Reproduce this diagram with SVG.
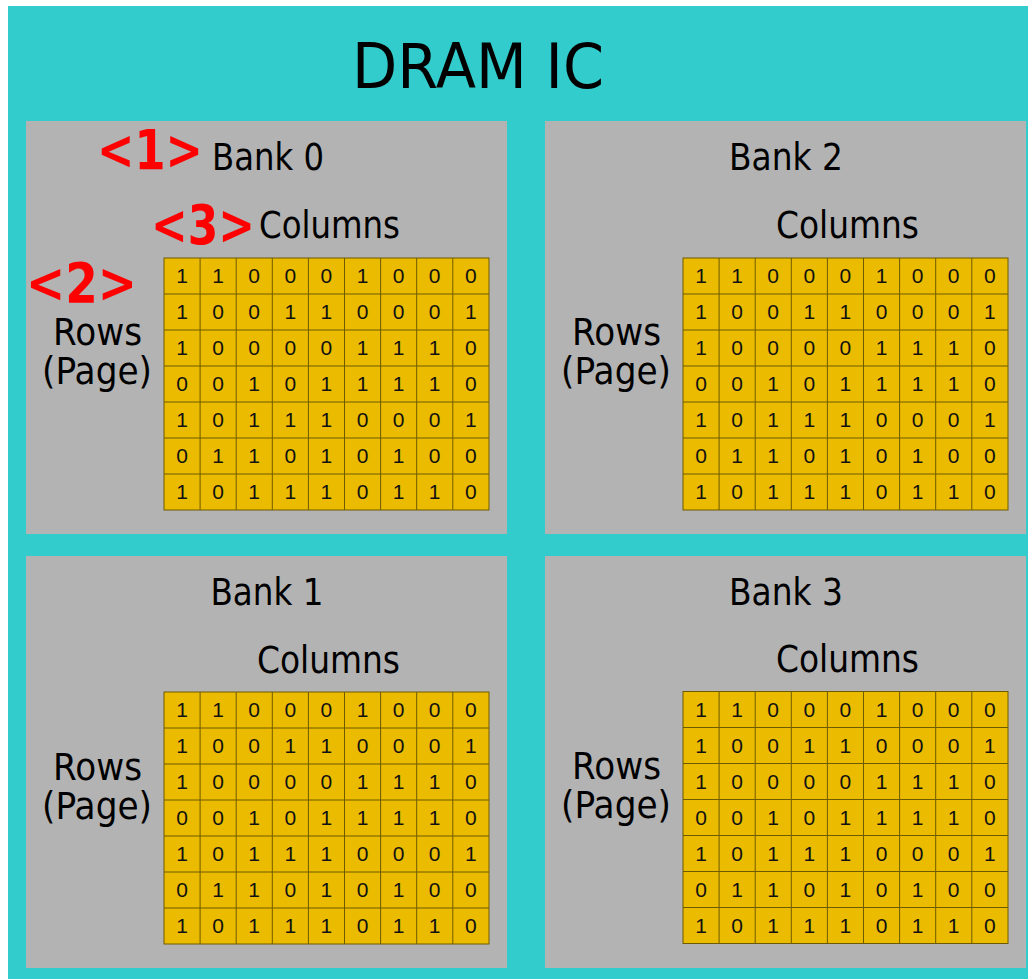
<svg xmlns="http://www.w3.org/2000/svg" width="1028" height="979" viewBox="0 0 1028 979">
<style>
.bg{fill:#33CCCC}
.panel{fill:#B3B3B3}
.t{font-family:"DejaVu Sans","Verdana",sans-serif;font-size:37px;fill:#000;text-anchor:middle}
.h{font-family:"DejaVu Sans","Verdana",sans-serif;font-size:62px;fill:#000;text-anchor:middle}
.r{font-family:"DejaVu Sans","Verdana",sans-serif;font-weight:bold;font-size:56px;fill:#FF0000;text-anchor:middle}
.cell{fill:#EBBB00;stroke:#6E5A00;stroke-width:1}
.gl{fill:none;stroke:#6E5A00;stroke-width:1}
.d{font-family:"Liberation Sans",Arial,sans-serif;font-size:21px;fill:#111;text-anchor:middle}
</style>
<rect class="bg" x="8" y="6" width="1020" height="973"/>
<g id="title"><text class="h" x="478" y="88" textLength="252" lengthAdjust="spacingAndGlyphs">DRAM IC</text></g>

<g id="bank0">
<rect class="panel" x="26" y="121" width="481" height="413"/>
<text class="t" x="268" y="170" textLength="112" lengthAdjust="spacingAndGlyphs">Bank 0</text>
<text class="t" x="329.5" y="238" textLength="141" lengthAdjust="spacingAndGlyphs">Columns</text>
<text class="t" x="97.5" y="345" textLength="89" lengthAdjust="spacingAndGlyphs">Rows</text>
<text class="t" x="97" y="384" textLength="110" lengthAdjust="spacingAndGlyphs">(Page)</text>
<g transform="translate(164,258)">
<rect class="cell" x="0" y="0" width="325" height="252"/>
<path class="gl" d="M36.1 0V252M72.2 0V252M108.3 0V252M144.4 0V252M180.5 0V252M216.6 0V252M252.7 0V252M288.8 0V252M0 36H325M0 72H325M0 108H325M0 144H325M0 180H325M0 216H325"/>
<text class="d" x="18" y="25">1</text><text class="d" x="54.1" y="25">1</text><text class="d" x="90.2" y="25">0</text><text class="d" x="126.3" y="25">0</text><text class="d" x="162.4" y="25">0</text><text class="d" x="198.5" y="25">1</text><text class="d" x="234.6" y="25">0</text><text class="d" x="270.7" y="25">0</text><text class="d" x="306.8" y="25">0</text>
<text class="d" x="18" y="61">1</text><text class="d" x="54.1" y="61">0</text><text class="d" x="90.2" y="61">0</text><text class="d" x="126.3" y="61">1</text><text class="d" x="162.4" y="61">1</text><text class="d" x="198.5" y="61">0</text><text class="d" x="234.6" y="61">0</text><text class="d" x="270.7" y="61">0</text><text class="d" x="306.8" y="61">1</text>
<text class="d" x="18" y="97">1</text><text class="d" x="54.1" y="97">0</text><text class="d" x="90.2" y="97">0</text><text class="d" x="126.3" y="97">0</text><text class="d" x="162.4" y="97">0</text><text class="d" x="198.5" y="97">1</text><text class="d" x="234.6" y="97">1</text><text class="d" x="270.7" y="97">1</text><text class="d" x="306.8" y="97">0</text>
<text class="d" x="18" y="133">0</text><text class="d" x="54.1" y="133">0</text><text class="d" x="90.2" y="133">1</text><text class="d" x="126.3" y="133">0</text><text class="d" x="162.4" y="133">1</text><text class="d" x="198.5" y="133">1</text><text class="d" x="234.6" y="133">1</text><text class="d" x="270.7" y="133">1</text><text class="d" x="306.8" y="133">0</text>
<text class="d" x="18" y="169">1</text><text class="d" x="54.1" y="169">0</text><text class="d" x="90.2" y="169">1</text><text class="d" x="126.3" y="169">1</text><text class="d" x="162.4" y="169">1</text><text class="d" x="198.5" y="169">0</text><text class="d" x="234.6" y="169">0</text><text class="d" x="270.7" y="169">0</text><text class="d" x="306.8" y="169">1</text>
<text class="d" x="18" y="205">0</text><text class="d" x="54.1" y="205">1</text><text class="d" x="90.2" y="205">1</text><text class="d" x="126.3" y="205">0</text><text class="d" x="162.4" y="205">1</text><text class="d" x="198.5" y="205">0</text><text class="d" x="234.6" y="205">1</text><text class="d" x="270.7" y="205">0</text><text class="d" x="306.8" y="205">0</text>
<text class="d" x="18" y="241">1</text><text class="d" x="54.1" y="241">0</text><text class="d" x="90.2" y="241">1</text><text class="d" x="126.3" y="241">1</text><text class="d" x="162.4" y="241">1</text><text class="d" x="198.5" y="241">0</text><text class="d" x="234.6" y="241">1</text><text class="d" x="270.7" y="241">1</text><text class="d" x="306.8" y="241">0</text>
</g>
</g>

<g id="bank2">
<rect class="panel" x="545" y="121" width="481" height="413"/>
<text class="t" x="786" y="170" textLength="114" lengthAdjust="spacingAndGlyphs">Bank 2</text>
<text class="t" x="847.5" y="238" textLength="143" lengthAdjust="spacingAndGlyphs">Columns</text>
<text class="t" x="616.5" y="345" textLength="89" lengthAdjust="spacingAndGlyphs">Rows</text>
<text class="t" x="616" y="384" textLength="110" lengthAdjust="spacingAndGlyphs">(Page)</text>
<g transform="translate(683,258)">
<rect class="cell" x="0" y="0" width="325" height="252"/>
<path class="gl" d="M36.1 0V252M72.2 0V252M108.3 0V252M144.4 0V252M180.5 0V252M216.6 0V252M252.7 0V252M288.8 0V252M0 36H325M0 72H325M0 108H325M0 144H325M0 180H325M0 216H325"/>
<text class="d" x="18" y="25">1</text><text class="d" x="54.1" y="25">1</text><text class="d" x="90.2" y="25">0</text><text class="d" x="126.3" y="25">0</text><text class="d" x="162.4" y="25">0</text><text class="d" x="198.5" y="25">1</text><text class="d" x="234.6" y="25">0</text><text class="d" x="270.7" y="25">0</text><text class="d" x="306.8" y="25">0</text>
<text class="d" x="18" y="61">1</text><text class="d" x="54.1" y="61">0</text><text class="d" x="90.2" y="61">0</text><text class="d" x="126.3" y="61">1</text><text class="d" x="162.4" y="61">1</text><text class="d" x="198.5" y="61">0</text><text class="d" x="234.6" y="61">0</text><text class="d" x="270.7" y="61">0</text><text class="d" x="306.8" y="61">1</text>
<text class="d" x="18" y="97">1</text><text class="d" x="54.1" y="97">0</text><text class="d" x="90.2" y="97">0</text><text class="d" x="126.3" y="97">0</text><text class="d" x="162.4" y="97">0</text><text class="d" x="198.5" y="97">1</text><text class="d" x="234.6" y="97">1</text><text class="d" x="270.7" y="97">1</text><text class="d" x="306.8" y="97">0</text>
<text class="d" x="18" y="133">0</text><text class="d" x="54.1" y="133">0</text><text class="d" x="90.2" y="133">1</text><text class="d" x="126.3" y="133">0</text><text class="d" x="162.4" y="133">1</text><text class="d" x="198.5" y="133">1</text><text class="d" x="234.6" y="133">1</text><text class="d" x="270.7" y="133">1</text><text class="d" x="306.8" y="133">0</text>
<text class="d" x="18" y="169">1</text><text class="d" x="54.1" y="169">0</text><text class="d" x="90.2" y="169">1</text><text class="d" x="126.3" y="169">1</text><text class="d" x="162.4" y="169">1</text><text class="d" x="198.5" y="169">0</text><text class="d" x="234.6" y="169">0</text><text class="d" x="270.7" y="169">0</text><text class="d" x="306.8" y="169">1</text>
<text class="d" x="18" y="205">0</text><text class="d" x="54.1" y="205">1</text><text class="d" x="90.2" y="205">1</text><text class="d" x="126.3" y="205">0</text><text class="d" x="162.4" y="205">1</text><text class="d" x="198.5" y="205">0</text><text class="d" x="234.6" y="205">1</text><text class="d" x="270.7" y="205">0</text><text class="d" x="306.8" y="205">0</text>
<text class="d" x="18" y="241">1</text><text class="d" x="54.1" y="241">0</text><text class="d" x="90.2" y="241">1</text><text class="d" x="126.3" y="241">1</text><text class="d" x="162.4" y="241">1</text><text class="d" x="198.5" y="241">0</text><text class="d" x="234.6" y="241">1</text><text class="d" x="270.7" y="241">1</text><text class="d" x="306.8" y="241">0</text>
</g>
</g>

<g id="bank1">
<rect class="panel" x="26" y="556" width="481" height="412"/>
<text class="t" x="267" y="605" textLength="113" lengthAdjust="spacingAndGlyphs">Bank 1</text>
<text class="t" x="328.5" y="673" textLength="143" lengthAdjust="spacingAndGlyphs">Columns</text>
<text class="t" x="97.5" y="780" textLength="89" lengthAdjust="spacingAndGlyphs">Rows</text>
<text class="t" x="97" y="819" textLength="110" lengthAdjust="spacingAndGlyphs">(Page)</text>
<g transform="translate(164,692)">
<rect class="cell" x="0" y="0" width="325" height="252"/>
<path class="gl" d="M36.1 0V252M72.2 0V252M108.3 0V252M144.4 0V252M180.5 0V252M216.6 0V252M252.7 0V252M288.8 0V252M0 36H325M0 72H325M0 108H325M0 144H325M0 180H325M0 216H325"/>
<text class="d" x="18" y="25">1</text><text class="d" x="54.1" y="25">1</text><text class="d" x="90.2" y="25">0</text><text class="d" x="126.3" y="25">0</text><text class="d" x="162.4" y="25">0</text><text class="d" x="198.5" y="25">1</text><text class="d" x="234.6" y="25">0</text><text class="d" x="270.7" y="25">0</text><text class="d" x="306.8" y="25">0</text>
<text class="d" x="18" y="61">1</text><text class="d" x="54.1" y="61">0</text><text class="d" x="90.2" y="61">0</text><text class="d" x="126.3" y="61">1</text><text class="d" x="162.4" y="61">1</text><text class="d" x="198.5" y="61">0</text><text class="d" x="234.6" y="61">0</text><text class="d" x="270.7" y="61">0</text><text class="d" x="306.8" y="61">1</text>
<text class="d" x="18" y="97">1</text><text class="d" x="54.1" y="97">0</text><text class="d" x="90.2" y="97">0</text><text class="d" x="126.3" y="97">0</text><text class="d" x="162.4" y="97">0</text><text class="d" x="198.5" y="97">1</text><text class="d" x="234.6" y="97">1</text><text class="d" x="270.7" y="97">1</text><text class="d" x="306.8" y="97">0</text>
<text class="d" x="18" y="133">0</text><text class="d" x="54.1" y="133">0</text><text class="d" x="90.2" y="133">1</text><text class="d" x="126.3" y="133">0</text><text class="d" x="162.4" y="133">1</text><text class="d" x="198.5" y="133">1</text><text class="d" x="234.6" y="133">1</text><text class="d" x="270.7" y="133">1</text><text class="d" x="306.8" y="133">0</text>
<text class="d" x="18" y="169">1</text><text class="d" x="54.1" y="169">0</text><text class="d" x="90.2" y="169">1</text><text class="d" x="126.3" y="169">1</text><text class="d" x="162.4" y="169">1</text><text class="d" x="198.5" y="169">0</text><text class="d" x="234.6" y="169">0</text><text class="d" x="270.7" y="169">0</text><text class="d" x="306.8" y="169">1</text>
<text class="d" x="18" y="205">0</text><text class="d" x="54.1" y="205">1</text><text class="d" x="90.2" y="205">1</text><text class="d" x="126.3" y="205">0</text><text class="d" x="162.4" y="205">1</text><text class="d" x="198.5" y="205">0</text><text class="d" x="234.6" y="205">1</text><text class="d" x="270.7" y="205">0</text><text class="d" x="306.8" y="205">0</text>
<text class="d" x="18" y="241">1</text><text class="d" x="54.1" y="241">0</text><text class="d" x="90.2" y="241">1</text><text class="d" x="126.3" y="241">1</text><text class="d" x="162.4" y="241">1</text><text class="d" x="198.5" y="241">0</text><text class="d" x="234.6" y="241">1</text><text class="d" x="270.7" y="241">1</text><text class="d" x="306.8" y="241">0</text>
</g>
</g>

<g id="bank3">
<rect class="panel" x="545" y="556" width="481" height="412"/>
<text class="t" x="786" y="605" textLength="114" lengthAdjust="spacingAndGlyphs">Bank 3</text>
<text class="t" x="847.5" y="672" textLength="143" lengthAdjust="spacingAndGlyphs">Columns</text>
<text class="t" x="616.5" y="779" textLength="89" lengthAdjust="spacingAndGlyphs">Rows</text>
<text class="t" x="616" y="818" textLength="110" lengthAdjust="spacingAndGlyphs">(Page)</text>
<g transform="translate(683,691.5)">
<rect class="cell" x="0" y="0" width="325" height="252"/>
<path class="gl" d="M36.1 0V252M72.2 0V252M108.3 0V252M144.4 0V252M180.5 0V252M216.6 0V252M252.7 0V252M288.8 0V252M0 36H325M0 72H325M0 108H325M0 144H325M0 180H325M0 216H325"/>
<text class="d" x="18" y="25">1</text><text class="d" x="54.1" y="25">1</text><text class="d" x="90.2" y="25">0</text><text class="d" x="126.3" y="25">0</text><text class="d" x="162.4" y="25">0</text><text class="d" x="198.5" y="25">1</text><text class="d" x="234.6" y="25">0</text><text class="d" x="270.7" y="25">0</text><text class="d" x="306.8" y="25">0</text>
<text class="d" x="18" y="61">1</text><text class="d" x="54.1" y="61">0</text><text class="d" x="90.2" y="61">0</text><text class="d" x="126.3" y="61">1</text><text class="d" x="162.4" y="61">1</text><text class="d" x="198.5" y="61">0</text><text class="d" x="234.6" y="61">0</text><text class="d" x="270.7" y="61">0</text><text class="d" x="306.8" y="61">1</text>
<text class="d" x="18" y="97">1</text><text class="d" x="54.1" y="97">0</text><text class="d" x="90.2" y="97">0</text><text class="d" x="126.3" y="97">0</text><text class="d" x="162.4" y="97">0</text><text class="d" x="198.5" y="97">1</text><text class="d" x="234.6" y="97">1</text><text class="d" x="270.7" y="97">1</text><text class="d" x="306.8" y="97">0</text>
<text class="d" x="18" y="133">0</text><text class="d" x="54.1" y="133">0</text><text class="d" x="90.2" y="133">1</text><text class="d" x="126.3" y="133">0</text><text class="d" x="162.4" y="133">1</text><text class="d" x="198.5" y="133">1</text><text class="d" x="234.6" y="133">1</text><text class="d" x="270.7" y="133">1</text><text class="d" x="306.8" y="133">0</text>
<text class="d" x="18" y="169">1</text><text class="d" x="54.1" y="169">0</text><text class="d" x="90.2" y="169">1</text><text class="d" x="126.3" y="169">1</text><text class="d" x="162.4" y="169">1</text><text class="d" x="198.5" y="169">0</text><text class="d" x="234.6" y="169">0</text><text class="d" x="270.7" y="169">0</text><text class="d" x="306.8" y="169">1</text>
<text class="d" x="18" y="205">0</text><text class="d" x="54.1" y="205">1</text><text class="d" x="90.2" y="205">1</text><text class="d" x="126.3" y="205">0</text><text class="d" x="162.4" y="205">1</text><text class="d" x="198.5" y="205">0</text><text class="d" x="234.6" y="205">1</text><text class="d" x="270.7" y="205">0</text><text class="d" x="306.8" y="205">0</text>
<text class="d" x="18" y="241">1</text><text class="d" x="54.1" y="241">0</text><text class="d" x="90.2" y="241">1</text><text class="d" x="126.3" y="241">1</text><text class="d" x="162.4" y="241">1</text><text class="d" x="198.5" y="241">0</text><text class="d" x="234.6" y="241">1</text><text class="d" x="270.7" y="241">1</text><text class="d" x="306.8" y="241">0</text>
</g>
</g>

<g id="annotations">
<text class="r" x="150" y="169" textLength="106" lengthAdjust="spacingAndGlyphs">&lt;1&gt;</text>
<text class="r" x="203" y="244" textLength="104" lengthAdjust="spacingAndGlyphs">&lt;3&gt;</text>
<text class="r" x="81.5" y="302" textLength="111" lengthAdjust="spacingAndGlyphs">&lt;2&gt;</text>
</g>
</svg>
